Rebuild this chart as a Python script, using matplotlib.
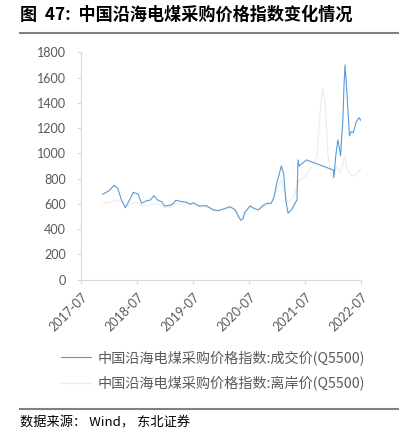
import pandas as pd
import matplotlib
matplotlib.use("Agg")
import matplotlib.pyplot as plt
from matplotlib.lines import Line2D

# 成交价(Q5500)
deal_dates = ['2017-11-20', '2017-12-28', '2018-02-03', '2018-02-25', '2018-03-22', '2018-04-16',
              '2018-05-19', '2018-06-06', '2018-07-08', '2018-07-30', '2018-09-01', '2018-09-27',
              '2018-10-18', '2018-11-17', '2018-12-08', '2018-12-27', '2019-02-02', '2019-02-24',
              '2019-03-10', '2019-04-20', '2019-05-22', '2019-06-13', '2019-07-01', '2019-08-10',
              '2019-09-27', '2019-11-10', '2019-12-13', '2020-02-28', '2020-04-01', '2020-04-22',
              '2020-05-08', '2020-05-22', '2020-06-03', '2020-07-08', '2020-07-27', '2020-08-29',
              '2020-09-27', '2020-10-23', '2020-11-21', '2020-12-09', '2020-12-27', '2021-01-11',
              '2021-01-26', '2021-02-10', '2021-02-24', '2021-03-11', '2021-04-05', '2021-05-01',
              '2021-05-08', '2021-05-15', '2021-05-22', '2021-07-09', '2021-12-31', '2022-01-04',
              '2022-01-15', '2022-01-29', '2022-02-05', '2022-02-16', '2022-02-23', '2022-03-03',
              '2022-03-10', '2022-03-17', '2022-03-24', '2022-03-31', '2022-04-15', '2022-04-26',
              '2022-05-10', '2022-05-29', '2022-06-17', '2022-07-01']
deal_vals = [676, 702, 747, 723, 630, 569, 644, 691, 678, 604, 625, 630,
             665, 625, 617, 583, 588, 604, 628, 617, 612, 596, 609, 583,
             585, 551, 546, 577, 551, 498, 469, 482, 535, 585, 567, 551,
             585, 604, 604, 652, 763, 829, 900, 842, 630, 525, 557, 617,
             630, 948, 900, 948, 868, 810, 974, 1106, 1066, 979, 1120, 1265,
             1529, 1701, 1582, 1450, 1138, 1172, 1164, 1251, 1283, 1257]

# 离岸价(Q5500)
fob_dates = ['2017-11-20', '2018-01-15', '2018-02-20', '2018-03-25', '2018-04-16', '2018-05-20',
             '2018-07-01', '2018-08-01', '2018-09-15', '2018-10-20', '2018-12-01', '2018-12-27',
             '2019-02-15', '2019-03-10', '2019-05-01', '2019-07-01', '2019-08-10', '2019-10-01',
             '2019-12-13', '2020-02-28', '2020-04-01', '2020-05-08', '2020-06-03', '2020-07-08',
             '2020-08-29', '2020-10-23', '2020-11-21', '2020-12-20', '2021-01-26', '2021-02-10',
             '2021-03-11', '2021-04-15', '2021-05-20', '2021-07-01', '2021-08-01', '2021-09-15',
             '2021-10-12', '2021-10-22', '2021-11-10', '2021-11-25', '2021-12-10', '2021-12-31',
             '2022-01-20', '2022-02-15', '2022-03-15', '2022-04-01', '2022-05-05', '2022-05-25',
             '2022-07-01']
fob_vals = [604, 615, 630, 610, 585, 598, 610, 585, 590, 605, 590, 570,
            578, 600, 600, 598, 578, 575, 545, 570, 550, 480, 530, 575,
            555, 590, 600, 690, 789, 720, 610, 650, 776, 820, 868, 974,
            1424, 1516, 1370, 1000, 868, 802, 894, 842, 974, 868, 820, 828,
            882]

labels = ['中国沿海电煤采购价格指数:成交价(Q5500)', '中国沿海电煤采购价格指数:离岸价(Q5500)']
tick_labels = ['2017-07', '2018-07', '2019-07', '2020-07', '2021-07', '2022-07']

cjk = ['Noto Sans CJK SC', 'DejaVu Sans']
grey_txt = '#595959'
axis_col = '#d9d9d9'

fig = plt.figure(figsize=(3.99, 4.33), dpi=100)
ax = fig.add_axes([0.203, 0.3545, 0.7025, 0.5243])

ax.plot(pd.to_datetime(fob_dates), fob_vals, color='#ececec', lw=0.8, label=labels[1])
ax.plot(pd.to_datetime(deal_dates), deal_vals, color='#5b9bd5', lw=0.8, label=labels[0])

ticks = pd.to_datetime(tick_labels)
ax.set_xlim(ticks[0], ticks[-1])
ax.set_xticks(ticks)
ax.set_xticklabels(tick_labels, rotation=45, ha='right', rotation_mode='anchor')
ax.set_ylim(0, 1800)
ax.set_yticks(range(0, 1801, 200))

for s in ['top', 'right']:
    ax.spines[s].set_visible(False)
for s in ['left', 'bottom']:
    ax.spines[s].set_color(axis_col)
ax.tick_params(axis='both', colors=axis_col, labelcolor=grey_txt, labelsize=9, length=3)
ax.tick_params(axis='y', pad=8)
ax.tick_params(axis='x', pad=5)
for t in ax.get_xticklabels() + ax.get_yticklabels():
    t.set_family('Lato')

handles = [Line2D([], [], color='#5b9bd5', lw=0.8), Line2D([], [], color='#ececec', lw=0.8)]
fig.legend(handles, labels, loc='upper left', bbox_to_anchor=(0.153, 0.192),
           frameon=False, prop={'family': cjk, 'size': 10.2}, labelcolor=grey_txt,
           handlelength=2.1, handletextpad=0.5, labelspacing=0.8,
           borderpad=0, borderaxespad=0)

# title and footer
fig.text(0.05, 0.965, '图  47:  中国沿海电煤采购价格指数变化情况', family=cjk,
         fontsize=12.3, fontweight='bold', va='center', ha='left')
fig.add_artist(Line2D([0.05, 1.0], [0.923, 0.923], color='#808080', lw=1.5))
fig.add_artist(Line2D([0.05, 1.0], [0.055, 0.055], color='#808080', lw=1.5))
fig.text(0.05, 0.023, '数据来源： Wind， 东北证券', family=cjk, fontsize=9.5,
         va='center', ha='left')

fig.savefig('out.png', dpi=100)
